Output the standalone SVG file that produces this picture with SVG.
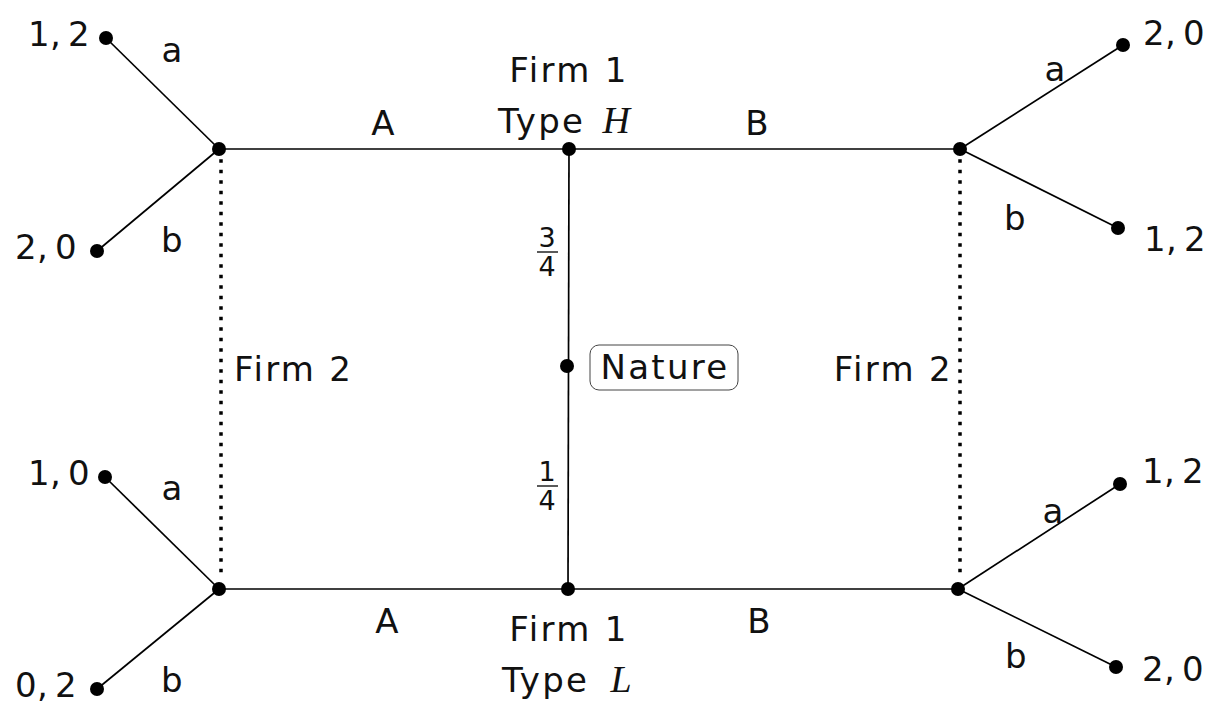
<svg xmlns="http://www.w3.org/2000/svg" width="1218" height="704" viewBox="0 0 1218 704">
<style>
text{font-family:"DejaVu Sans",sans-serif;font-size:34px;fill:#111;letter-spacing:2.3px}
.m{text-anchor:middle}
.e{text-anchor:end}
.fr{font-size:27px;letter-spacing:0}
.it{font-family:"Liberation Serif",serif;font-style:italic;font-size:38px;letter-spacing:0}
.ln{stroke:#000;stroke-width:1.7;fill:none}
.dt{stroke:#000;stroke-width:3.5;stroke-dasharray:0 10.5;stroke-linecap:square;fill:none}
.dot{fill:#000}
</style>
<rect width="1218" height="704" fill="#fff"/>
<g id="connectors">
<line class="ln" x1="219" y1="149" x2="960" y2="149"/>
<line class="ln" x1="219" y1="589" x2="958" y2="589"/>
<line class="ln" x1="569" y1="149" x2="568" y2="589"/>
<line class="ln" x1="219" y1="149" x2="106" y2="38"/>
<line class="ln" x1="219" y1="149" x2="97" y2="251"/>
<line class="ln" x1="960" y1="149" x2="1123" y2="45"/>
<line class="ln" x1="960" y1="149" x2="1118" y2="228"/>
<line class="ln" x1="219" y1="589" x2="105" y2="477"/>
<line class="ln" x1="219" y1="589" x2="97" y2="689"/>
<line class="ln" x1="958" y1="589" x2="1120" y2="484"/>
<line class="ln" x1="958" y1="589" x2="1116" y2="667"/>
<line class="dt" x1="221" y1="161" x2="221" y2="580"/>
<line class="dt" x1="960" y1="161" x2="960" y2="580"/>
</g>
<g id="n-top-left"><circle class="dot" cx="219" cy="149" r="7"/></g>
<g id="n-top-center"><circle class="dot" cx="569" cy="149" r="7"/>
<text class="m" x="569" y="82">Firm 1</text>
<text x="498" y="133">Type <tspan class="it" dx="4">H</tspan></text></g>
<g id="n-top-right"><circle class="dot" cx="960" cy="149" r="7"/></g>
<g id="n-nature"><circle class="dot" cx="567" cy="366" r="7"/>
<rect x="590" y="345" width="148" height="45" rx="9" fill="none" stroke="#444" stroke-width="1"/>
<text class="m" x="665" y="379">Nature</text></g>
<g id="n-bottom-left"><circle class="dot" cx="219" cy="589" r="7"/></g>
<g id="n-bottom-center"><circle class="dot" cx="568" cy="589" r="7"/>
<text class="m" x="569" y="641">Firm 1</text>
<text x="502" y="692">Type <tspan class="it" dx="8">L</tspan></text></g>
<g id="n-bottom-right"><circle class="dot" cx="958" cy="589" r="7"/></g>
<g id="leaf-tl1"><circle class="dot" cx="106" cy="38" r="7"/><text class="e" x="92" y="46">1<tspan dx="-2">,</tspan><tspan dx="5">2</tspan></text></g>
<g id="leaf-tl2"><circle class="dot" cx="97" cy="251" r="7"/><text class="e" x="79" y="259">2<tspan dx="-2">,</tspan><tspan dx="5">0</tspan></text></g>
<g id="leaf-tr1"><circle class="dot" cx="1123" cy="45" r="7"/><text x="1143" y="45">2<tspan dx="-2">,</tspan><tspan dx="5">0</tspan></text></g>
<g id="leaf-tr2"><circle class="dot" cx="1118" cy="228" r="7"/><text x="1144" y="251">1<tspan dx="-2">,</tspan><tspan dx="5">2</tspan></text></g>
<g id="leaf-bl1"><circle class="dot" cx="105" cy="477" r="7"/><text class="e" x="92" y="485">1<tspan dx="-2">,</tspan><tspan dx="5">0</tspan></text></g>
<g id="leaf-bl2"><circle class="dot" cx="97" cy="689" r="7"/><text class="e" x="79" y="697">0<tspan dx="-2">,</tspan><tspan dx="5">2</tspan></text></g>
<g id="leaf-br1"><circle class="dot" cx="1120" cy="484" r="7"/><text x="1142" y="483">1<tspan dx="-2">,</tspan><tspan dx="5">2</tspan></text></g>
<g id="leaf-br2"><circle class="dot" cx="1116" cy="667" r="7"/><text x="1142" y="681">2<tspan dx="-2">,</tspan><tspan dx="5">0</tspan></text></g>
<g id="labels">
<text class="m" x="173" y="62">a</text>
<text class="m" x="173" y="252">b</text>
<text class="m" x="384" y="135">A</text>
<text class="m" x="758" y="135">B</text>
<text class="m" x="1056" y="81">a</text>
<text class="m" x="1016" y="230">b</text>
<text x="234" y="381">Firm 2</text>
<text class="e" x="953" y="381">Firm 2</text>
<text class="m" x="173" y="500">a</text>
<text class="m" x="173" y="692">b</text>
<text class="m" x="388" y="633">A</text>
<text class="m" x="760" y="633">B</text>
<text class="m" x="1054" y="523">a</text>
<text class="m" x="1017" y="668">b</text>
<text class="m fr" x="547" y="247">3</text>
<line x1="537" y1="252" x2="558" y2="252" stroke="#000" stroke-width="1.3"/>
<text class="m fr" x="547" y="276">4</text>
<text class="m fr" x="547" y="481">1</text>
<line x1="537" y1="486" x2="558" y2="486" stroke="#000" stroke-width="1.3"/>
<text class="m fr" x="547" y="510">4</text>
</g>
</svg>
